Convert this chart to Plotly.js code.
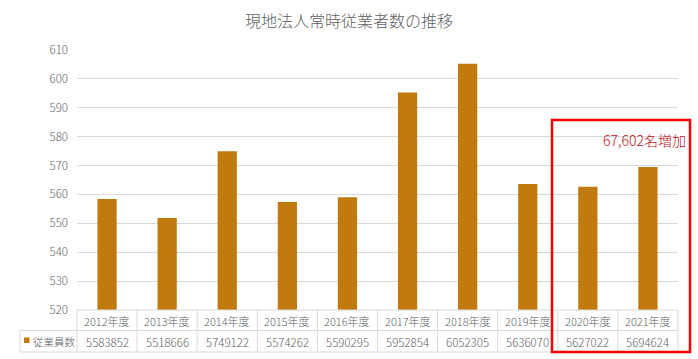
<!DOCTYPE html>
<html>
<head>
<meta charset="utf-8">
<script src="https://cdn.plot.ly/plotly-3.0.1.min.js"></script>
<style>html,body{margin:0;padding:0;background:#fff;}#chart{width:698px;height:359px;}</style>
</head>
<body>
<div id="chart"></div>
<script>
const categories = ["2012年度","2013年度","2014年度","2015年度","2016年度","2017年度","2018年度","2019年度","2020年度","2021年度"];
const employees = [5583852, 5518666, 5749122, 5574262, 5590295, 5952854, 6052305, 5636070, 5627022, 5694624];
const seriesName = "従業員数";
const chartTitle = "現地法人常時従業者数の推移";
const noteText = "67,602名増加";

const FONT = '"Noto Sans CJK JP", "Noto Sans", sans-serif';
const GRAY = '#5f5f5f';
const LINE = '#d9d9d9';
const barColor = '#c07a0e';
const WT = 300;

// plot-area geometry in pixels
const L = 77, R = 678, T = 50, B = 310, W = 698, H = 359;
const pw = R - L, ph = B - T;
const py = p => (B - p) / ph;      // pixel y -> paper y
const px = p => (p - L) / pw;      // pixel x -> paper x

const yRow1 = py(320.5), yRow2 = py(341.5);
const yTop = 0, yMid = py(330.5), yBot = py(352);
const n = categories.length;

const shapes = [];
shapes.push({type:'line', xref:'paper', yref:'paper', x0:0, x1:1, y0:yTop, y1:yTop, line:{color:LINE, width:1}});
shapes.push({type:'line', xref:'paper', yref:'paper', x0:px(20), x1:1, y0:yMid, y1:yMid, line:{color:LINE, width:1}});
shapes.push({type:'line', xref:'paper', yref:'paper', x0:px(20), x1:1, y0:yBot, y1:yBot, line:{color:LINE, width:1}});
shapes.push({type:'line', xref:'paper', yref:'paper', x0:px(20), x1:px(20), y0:yMid, y1:yBot, line:{color:LINE, width:1}});
for (let k = 0; k <= n; k++) {
  shapes.push({type:'line', xref:'paper', yref:'paper', x0:k/n, x1:k/n, y0:yTop, y1:yBot, line:{color:LINE, width:1}});
}
shapes.push({type:'rect', xref:'paper', yref:'paper', x0:px(24), x1:px(29.5), y0:py(343), y1:py(337.5), fillcolor:barColor, line:{width:0}});
shapes.push({type:'rect', xref:'paper', yref:'paper', x0:px(552), x1:px(690), y0:py(352), y1:py(120), line:{color:'#ff0000', width:2.5}, fillcolor:'rgba(0,0,0,0)'});

const annotations = [];
categories.forEach((c, i) => {
  annotations.push({x:c, xref:'x', y:yRow1, yref:'paper', text:c, showarrow:false, xanchor:'center', yanchor:'middle', font:{family:FONT, size:11, color:GRAY, weight:WT}});
  annotations.push({x:c, xref:'x', y:yRow2, yref:'paper', text:String(employees[i]), showarrow:false, xanchor:'center', yanchor:'middle', font:{family:FONT, size:11.5, color:GRAY, weight:WT}});
});
annotations.push({x:px(31), xref:'paper', y:yRow2, yref:'paper', text:seriesName, showarrow:false, xanchor:'left', yanchor:'middle', font:{family:FONT, size:10.5, color:GRAY, weight:WT}});
annotations.push({x:px(688), xref:'paper', y:py(140), yref:'paper', text:noteText, showarrow:false, xanchor:'right', yanchor:'middle', font:{family:FONT, size:14, color:'#c0101a', weight:WT}});

const trace = {
  type:'bar',
  x: categories,
  y: employees.map(v => v / 10000),
  marker:{color:barColor, line:{width:0}},
  name: seriesName,
  hoverinfo:'x+y'
};

const layout = {
  width: W, height: H,
  margin:{l:L, r:W-R, t:T, b:H-B},
  paper_bgcolor:'#fff', plot_bgcolor:'#fff',
  showlegend:false,
  bargap:0.68,
  title:{text:chartTitle, font:{family:FONT, size:16, color:GRAY, weight:WT}, x:0.5, xref:'container', xanchor:'center', y:1-21/H, yref:'container', yanchor:'middle'},
  xaxis:{type:'category', showticklabels:false, showgrid:false, zeroline:false, showline:false, ticks:'', range:[-0.5, n-0.5], fixedrange:true},
  yaxis:{range:[520,610], dtick:10, tick0:520, showgrid:true, gridcolor:LINE, gridwidth:1, zeroline:false, showline:false, ticks:'', ticklabelstandoff:8, tickfont:{family:FONT, size:11.5, color:GRAY, weight:WT}, fixedrange:true},
  shapes: shapes,
  annotations: annotations,
  font:{family:FONT, color:GRAY}
};

Plotly.newPlot('chart', [trace], layout, {displayModeBar:false, staticPlot:true});
</script>
</body>
</html>
